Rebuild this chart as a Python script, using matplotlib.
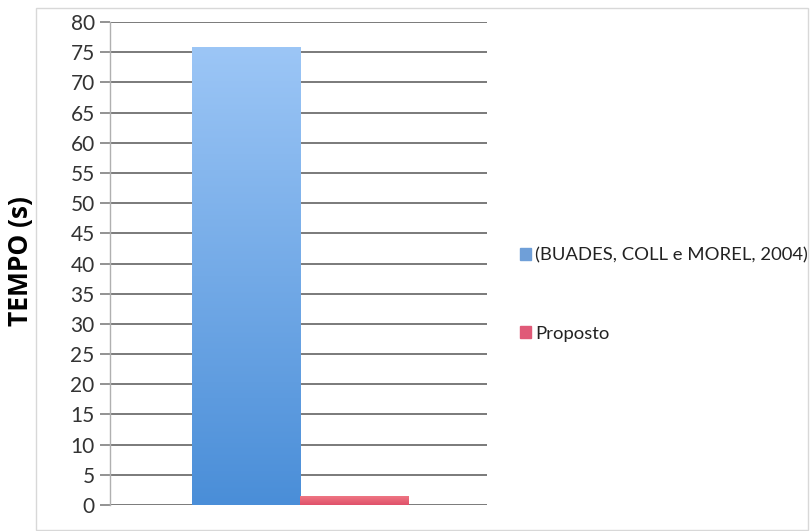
import numpy as np
import matplotlib.pyplot as plt
from matplotlib.patches import Rectangle
from matplotlib.colors import LinearSegmentedColormap

series = ["(BUADES, COLL e MOREL, 2004)", "Proposto"]
tempo = [75.8, 1.5]
y_ticks = list(range(0, 85, 5))

plt.rcParams['font.family'] = ['Lato', 'DejaVu Sans']

fig = plt.figure(figsize=(8.1, 5.31), dpi=100)
# light frame around the whole chart area
fig.patches.append(Rectangle((36 / 810, 1 / 531), 772 / 810, 522 / 531,
                             transform=fig.transFigure, fill=False,
                             edgecolor='#d8d8d8', linewidth=1))

ax = fig.add_axes([110 / 810, 1 - 505 / 531, 377 / 810, 483 / 531])

grads = [
    LinearSegmentedColormap.from_list('b', ['#4a8ed8', '#9cc6f6']),
    LinearSegmentedColormap.from_list('r', ['#e0506a', '#f07a86']),
]
solid = ['#6fa6e6', '#e8606f']

for i, (name, val) in enumerate(zip(series, tempo)):
    bar = ax.bar(i, val, width=1.0, color=solid[i], zorder=3, label=name)[0]
    # vertical gradient clipped to the bar
    img = ax.imshow(np.linspace(0, 1, 256).reshape(-1, 1), cmap=grads[i],
                    extent=[i - 0.5, i + 0.5, 0, val], origin='lower',
                    aspect='auto', zorder=4)
    img.set_clip_path(bar)

ax.set_xlim(-1.26, 2.23)
ax.set_ylim(0, 80)
ax.set_yticks(y_ticks)
ax.set_xticks([])
ax.tick_params(axis='y', length=7, width=1.2, color='#808080',
               labelsize=15, labelcolor='#333333', pad=4)
ax.yaxis.grid(True, color='#7a7a7a', linewidth=1.4, zorder=1)
for s in ['top', 'right', 'bottom']:
    ax.spines[s].set_visible(False)
ax.spines['left'].set_color('#b0b0b0')
ax.spines['left'].set_linewidth(1)

ax.set_ylabel("TEMPO (s)", fontsize=19, fontweight='bold',
              family=['Open Sans', 'DejaVu Sans'])
ax.yaxis.set_label_coords(-0.201, 0.505)

handles = [Rectangle((0, 0), 1, 1, color=c) for c in ['#6f9fd8', '#e05a78']]
fig.legend(handles, series, loc='upper left',
           bbox_to_anchor=(503 / 810, 1 - 231 / 531), frameon=False,
           fontsize=13.3, labelspacing=3.35, handlelength=0.62, handleheight=0.62,
           handletextpad=0.22, labelcolor='#222222')

fig.savefig('out.png', dpi=100)
